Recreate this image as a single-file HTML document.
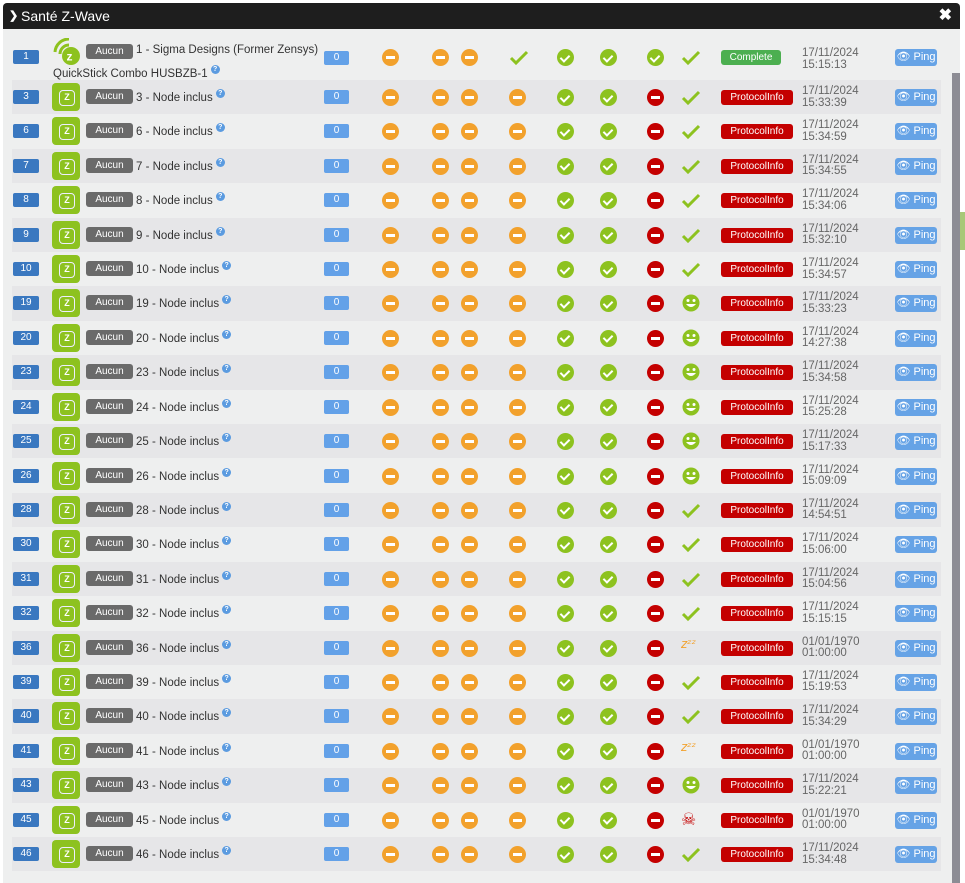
<!DOCTYPE html>
<html><head><meta charset="utf-8"><style>
*{box-sizing:border-box;margin:0;padding:0}
body{width:965px;height:883px;background:#fff;font-family:"Liberation Sans",sans-serif;position:relative;overflow:hidden}
#modal{position:absolute;left:3px;top:3px;width:957px;height:880px;background:#eeefef;border-radius:4px 4px 0 0;overflow:hidden}
#hdr{position:absolute;left:0;top:0;width:957px;height:26px;background:#1e1e1e;color:#fff;font-size:14px;line-height:26px;padding-left:18px}
#hdr .ar{position:absolute;left:6px;top:0;font-size:11px;font-weight:bold}
#hdr .x{position:absolute;right:8px;top:0;font-size:16px;font-weight:bold}
#sb{position:absolute;left:949px;top:70px;width:8px;height:810px;background:#8c8c94}
.row{position:absolute;left:9px;width:929px;height:34.4px}
.d{background:#e6e6e8}
.row>*{position:absolute}
.id{left:1px;width:26px;height:14px;background:#3a78c0;color:#fff;font-size:10px;text-align:center;line-height:14px;border-radius:2px}
.ic{left:40px;width:28px;height:28px;background:#8dc21f;border-radius:4px}
.ic::after{content:"Z";position:absolute;left:7px;top:7px;width:14px;height:14px;border:1.5px solid #eef;border-radius:4px;color:#fff;font-size:9px;font-weight:bold;text-align:center;line-height:12px}
.au{left:74px;width:47px;height:15px;background:#6a6a6a;color:#fff;font-size:10px;text-align:center;line-height:15px;border-radius:3px}
.nm{left:124px;font-size:11.5px;color:#333;white-space:nowrap}
.q{display:inline-block;width:9px;height:9px;border-radius:50%;background:#5b9be0;color:#fff;font-size:7px;font-weight:bold;text-align:center;line-height:9px;vertical-align:6px;margin-left:3px}
.z{left:312px;width:25px;height:14px;background:#63a1e8;color:#fff;font-size:10px;text-align:center;line-height:14px;border-radius:2px}
.c{width:17px;height:17px;border-radius:50%}
.o{background:#f2a12c}.g{background:#8dc21f}.r{background:#c40000}
.o::after,.r::after{content:"";position:absolute;left:4px;top:7px;width:9px;height:3px;background:#fff}
.g::after{content:"";position:absolute;left:5px;top:3.5px;width:4px;height:7px;border:solid #fff;border-width:0 2px 2px 0;transform:rotate(45deg)}
.zz{color:#f2a12c;font-size:12px;font-style:italic;line-height:17px;font-family:"DejaVu Sans",sans-serif}
.sk{color:#c40000;font-size:17px;line-height:17px;font-family:"DejaVu Sans",sans-serif}
.pi{left:709px;width:72px;height:15px;background:#c40000;color:#fff;font-size:10px;text-align:center;line-height:15px;border-radius:3px}
.cp{left:709px;width:60px;height:15px;background:#4caf50;color:#fff;font-size:10px;text-align:center;line-height:15px;border-radius:3px}
.dt{left:790px;font-size:11.5px;color:#666;line-height:11.5px}
.pg{left:883px;width:42px;height:17px;background:#66a3e6;color:#fff;font-size:11px;line-height:17px;text-align:center;border-radius:3px}
</style></head><body>
<div style="position:absolute;left:960px;top:212px;width:5px;height:38px;background:#a8c878"></div>
<div id="modal">
<div id="hdr"><span class="ar">&#10095;</span>Santé Z-Wave<span class="x">✖</span></div>
<div id="sb"></div>

<div class="row" style="top:34px;height:44px">
<div class="id" style="top:13px">1</div>
<div style="left:40px;top:1px;width:30px;height:28px"><svg width="30" height="28"><path d="M3 14 A14 14 0 0 1 17 1" stroke="#8dc21f" stroke-width="3" fill="none"/><path d="M8 16 A9 9 0 0 1 17 7" stroke="#8dc21f" stroke-width="3" fill="none"/><circle cx="19" cy="18" r="9" fill="#8dc21f"/><text x="14.5" y="22.5" font-size="12" font-weight="bold" fill="#fff" font-family="Liberation Sans">z</text></svg></div>
<div class="au" style="top:7px">Aucun</div>
<div class="nm" style="top:7px">1 - Sigma Designs (Former Zensys)</div>
<div class="nm" style="left:41px;top:28px">QuickStick Combo HUSBZB-1<span class="q">?</span></div>
<div class="z" style="top:14px">0</div>
<div class="c o" style="left:370px;top:12px"></div><div class="c o" style="left:420px;top:12px"></div><div class="c o" style="left:449px;top:12px"></div>
<svg style="left:497px;top:12px" width="20" height="17"><polyline points="2,9 7,14 18,3" stroke="#8dc21f" stroke-width="3" fill="none"/></svg>
<div class="c g" style="left:545px;top:12px"></div><div class="c g" style="left:588px;top:12px"></div><div class="c g" style="left:635px;top:12px"></div>
<svg style="left:669px;top:12px" width="20" height="17"><polyline points="2,9 7,14 18,3" stroke="#8dc21f" stroke-width="3" fill="none"/></svg>
<div class="cp" style="top:13px">Complete</div>
<div class="dt" style="top:11px">17/11/2024<br>15:15:13</div>
<div class="pg" style="top:12px">👁 Ping</div>
</div>
</div>
<script>
var data=[["3","c","17/11/2024","15:33:39"],["6","c","17/11/2024","15:34:59"],["7","c","17/11/2024","15:34:55"],["8","c","17/11/2024","15:34:06"],["9","c","17/11/2024","15:32:10"],["10","c","17/11/2024","15:34:57"],["19","s","17/11/2024","15:33:23"],["20","s","17/11/2024","14:27:38"],["23","s","17/11/2024","15:34:58"],["24","s","17/11/2024","15:25:28"],["25","s","17/11/2024","15:17:33"],["26","s","17/11/2024","15:09:09"],["28","c","17/11/2024","14:54:51"],["30","c","17/11/2024","15:06:00"],["31","c","17/11/2024","15:04:56"],["32","c","17/11/2024","15:15:15"],["36","z","01/01/1970","01:00:00"],["39","c","17/11/2024","15:19:53"],["40","c","17/11/2024","15:34:29"],["41","z","01/01/1970","01:00:00"],["43","s","17/11/2024","15:22:21"],["45","k","01/01/1970","01:00:00"],["46","c","17/11/2024","15:34:48"]];
var h="";
data.forEach(function(d,k){
var t=77+34.41*k;
var st=d[1]=="c"?'<svg style="left:669px;top:9px" width="20" height="17"><polyline points="2,9 7,14 18,3" stroke="#8dc21f" stroke-width="3" fill="none"/></svg>':d[1]=="s"?'<svg style="left:670px;top:8px" width="18" height="18"><circle cx="9" cy="9" r="8.5" fill="#8dc21f"/><circle cx="6" cy="6.5" r="1.5" fill="#fff"/><circle cx="12" cy="6.5" r="1.5" fill="#fff"/><path d="M4 10 Q9 16 14 10 Z" fill="#fff"/></svg>':d[1]=="z"?'<div class="zz" style="left:669px;top:5px">zᶻᶻ</div>':'<div class="sk" style="left:669px;top:9px">☠</div>';
h+='<div class="row'+(k%2==0?' d':'')+'" style="top:'+t+'px"><div class="id" style="top:10px">'+d[0]+'</div><div class="ic" style="top:3px"></div><div class="au" style="top:9px">Aucun</div><div class="nm" style="top:9px">'+d[0]+' - Node inclus<span class="q">?</span></div><div class="z" style="top:10px">0</div><div class="c o" style="left:370px;top:9px"></div><div class="c o" style="left:420px;top:9px"></div><div class="c o" style="left:449px;top:9px"></div><div class="c o" style="left:497px;top:9px"></div><div class="c g" style="left:545px;top:9px"></div><div class="c g" style="left:588px;top:9px"></div><div class="c r" style="left:635px;top:9px"></div>'+st+'<div class="pi" style="top:10px">ProtocolInfo</div><div class="dt" style="top:6px">'+d[2]+'<br>'+d[3]+'</div><div class="pg" style="top:9px">👁 Ping</div></div>';
});
document.getElementById("modal").insertAdjacentHTML("beforeend",h);
</script>
</body></html>
